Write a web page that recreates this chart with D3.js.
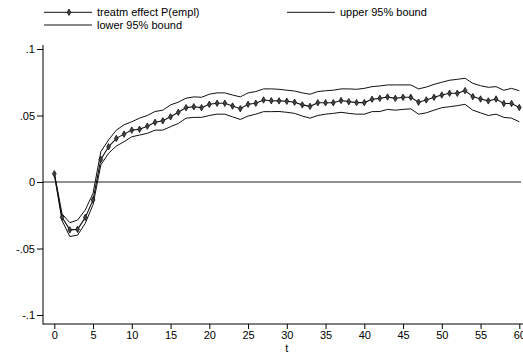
<!DOCTYPE html>
<html><head><meta charset="utf-8">
<script src="https://cdn.jsdelivr.net/npm/d3@7"></script>
<style>body{margin:0;background:#fff}svg{display:block}text{font-family:"Liberation Sans",Arial,sans-serif;fill:#000}</style>
</head><body>
<svg id="c" width="523" height="354"></svg>
<script>
const tValues = d3.range(0, 61);
const effect = [0.0062,-0.0265,-0.036,-0.0356,-0.0266,-0.0135,0.017,0.0265,0.0328,0.036,
0.039,0.0396,0.042,0.0449,0.046,0.049,0.0524,0.0559,0.0566,0.0559,
0.0584,0.0592,0.0592,0.0571,0.0551,0.0584,0.0592,0.0617,0.0611,0.061,
0.0607,0.060,0.058,0.0569,0.0596,0.0596,0.0596,0.0613,0.0604,0.0597,
0.0597,0.0622,0.0629,0.0639,0.0629,0.0637,0.0637,0.060,0.0617,0.0637,
0.0654,0.0667,0.0667,0.0687,0.0642,0.0624,0.061,0.0624,0.059,0.059,0.056];
const upper = [0.0068,-0.024,-0.0306,-0.0286,-0.021,-0.0085,0.0228,0.0316,0.039,0.043,
0.0453,0.048,0.050,0.053,0.054,0.058,0.060,0.063,0.064,0.0637,
0.066,0.067,0.067,0.0654,0.064,0.067,0.068,0.070,0.070,0.0697,
0.069,0.0684,0.067,0.066,0.068,0.0686,0.069,0.070,0.070,0.0697,
0.0704,0.0717,0.0722,0.073,0.073,0.073,0.073,0.070,0.0714,0.0734,
0.075,0.0765,0.0772,0.078,0.0742,0.0724,0.0712,0.0717,0.069,0.0704,0.0686];
const lower = [0.0056,-0.029,-0.041,-0.040,-0.031,-0.017,0.0128,0.0216,0.027,0.0303,
0.034,0.0353,0.0366,0.039,0.039,0.0416,0.044,0.048,0.0486,0.0486,
0.050,0.051,0.051,0.049,0.047,0.0496,0.051,0.0529,0.0529,0.053,
0.0524,0.0516,0.0496,0.048,0.050,0.051,0.0516,0.0524,0.0516,0.051,
0.051,0.0529,0.053,0.0546,0.054,0.0546,0.055,0.051,0.052,0.054,
0.0559,0.0566,0.0574,0.0584,0.054,0.052,0.050,0.051,0.0486,0.048,0.0453];
const xTicks = [0,5,10,15,20,25,30,35,40,45,50,55,60];
const yTicks = [-0.1,-0.05,0,0.05,0.1];
const yTickLabels = ["-.1","-.05","0",".05",".1"];
const legendLabels = ["treatm effect P(empl)","upper 95% bound","lower 95% bound"];

const svg = d3.select("#c");
const x = d3.scaleLinear().domain([0,60]).range([54.3,519.3]);
const y = d3.scaleLinear().domain([-0.1,0.1]).range([315,49]);
const axX = 43, axY = 324;

// zero line
svg.append("line").attr("x1",axX).attr("x2",521).attr("y1",y(0)).attr("y2",y(0))
  .attr("stroke","#222").attr("stroke-width",1);

const line = d3.line().x((d,i)=>x(tValues[i])).y(d=>y(d));
[upper, lower].forEach(s=>{
  svg.append("path").attr("d",line(s)).attr("fill","none").attr("stroke","#111").attr("stroke-width",1);
});
svg.append("path").attr("d",line(effect)).attr("fill","none").attr("stroke","#111").attr("stroke-width",1.1);
const sym = d3.symbol().type(d3.symbolDiamond).size(12);
svg.append("g").selectAll("path").data(effect).join("path")
  .attr("d",sym).attr("transform",(d,i)=>`translate(${x(tValues[i])},${y(d)})`)
  .attr("fill","#444").attr("stroke","#111").attr("stroke-width",0.8);

// axes
const yAxis = d3.axisLeft(y).tickValues(yTicks).tickFormat((d,i)=>yTickLabels[i]).tickSize(6).tickPadding(2);
const gy = svg.append("g").attr("transform",`translate(${axX},0)`).call(yAxis);
gy.select(".domain").remove();
svg.append("line").attr("x1",axX).attr("x2",axX).attr("y1",45).attr("y2",axY+0.5).attr("stroke","#000");
const xAxis = d3.axisBottom(x).tickValues(xTicks).tickSize(5).tickPadding(2);
const gx = svg.append("g").attr("transform",`translate(0,${axY})`).call(xAxis);
gx.select(".domain").remove();
svg.append("line").attr("x1",axX).attr("x2",523).attr("y1",axY).attr("y2",axY).attr("stroke","#000");
svg.selectAll(".tick text").style("font-size","11px").style("font-family","Liberation Sans, Arial, sans-serif").attr("fill","#000");
svg.selectAll(".tick line").attr("stroke","#000");
svg.append("text").attr("x",x(30)).attr("y",352).attr("text-anchor","middle").style("font-size","11px").text("t");

// legend
const leg = [{x0:44,y0:12.3,label:legendLabels[0],marker:true},{x0:287,y0:12.3,label:legendLabels[1]},{x0:44,y0:25,label:legendLabels[2]}];
leg.forEach(l=>{
  svg.append("line").attr("x1",l.x0).attr("x2",l.x0+48).attr("y1",l.y0).attr("y2",l.y0).attr("stroke","#111");
  if(l.marker) svg.append("path").attr("d",sym).attr("transform",`translate(${l.x0+25},${l.y0})`).attr("fill","#444").attr("stroke","#111").attr("stroke-width",0.8);
  svg.append("text").attr("x",l.x0+53).attr("y",l.y0+4).style("font-size","11px").text(l.label);
});
</script>
</body></html>
